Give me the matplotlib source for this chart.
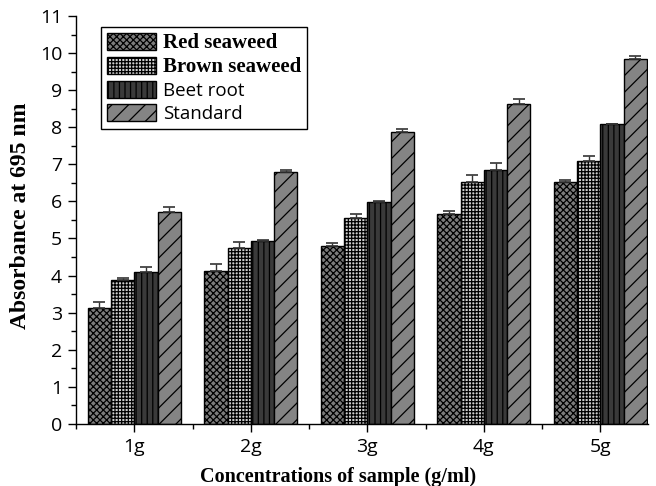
import matplotlib
matplotlib.use('Agg')
import matplotlib.pyplot as plt
from matplotlib.ticker import MultipleLocator
import numpy as np

concentrations = ['1g', '2g', '3g', '4g', '5g']
red_seaweed = [3.13, 4.13, 4.79, 5.66, 6.51]
red_err = [0.15, 0.17, 0.10, 0.09, 0.08]
brown_seaweed = [3.88, 4.75, 5.56, 6.52, 7.10]
brown_err = [0.05, 0.15, 0.11, 0.18, 0.13]
beet_root = [4.10, 4.93, 5.98, 6.86, 8.09]
beet_err = [0.14, 0.02, 0.02, 0.17, 0.01]
standard = [5.72, 6.78, 7.86, 8.64, 9.84]
standard_err = [0.14, 0.06, 0.09, 0.11, 0.07]

plt.rcParams['hatch.linewidth'] = 0.9

fig = plt.figure(figsize=(6.56, 4.86), dpi=100)
ax = fig.add_axes([0.116, 0.128, 0.872, 0.839])

x = np.arange(1, 6)
w = 0.2
series = [
    (red_seaweed, red_err, 'Red seaweed', '#7c7c7c', 'xxxxx'),
    (brown_seaweed, brown_err, 'Brown seaweed', '#cfcfcf', '+++++'),
    (beet_root, beet_err, 'Beet root', '#3a3a3a', '|||'),
    (standard, standard_err, 'Standard', '#848484', '//'),
]
for i, (vals, errs, name, fc, hatch) in enumerate(series):
    pos = x + (i - 1.5) * w
    ax.bar(pos, vals, w, color=fc, edgecolor='black', hatch=hatch,
           linewidth=1.0, label=name, zorder=2)
    ax.errorbar(pos, vals, yerr=[np.zeros(5), errs], fmt='none',
                ecolor='#333333', elinewidth=1.0, capsize=4, capthick=1.2,
                zorder=3)

ax.set_xlim(0.5, 5.41)
ax.set_ylim(0, 11)
ax.set_xticks(x)
ax.set_xticklabels(concentrations)
ax.xaxis.set_minor_locator(MultipleLocator(0.5))
ax.yaxis.set_major_locator(MultipleLocator(1))
ax.yaxis.set_minor_locator(MultipleLocator(0.5))
ax.tick_params(which='major', direction='out', length=6, width=1.0,
               labelsize=14, pad=4)
ax.tick_params(which='minor', direction='out', length=3.5, width=1.0)
for lab in ax.get_xticklabels() + ax.get_yticklabels():
    lab.set_fontfamily('Open Sans')
ax.spines['top'].set_visible(False)
ax.spines['right'].set_visible(False)
ax.spines['left'].set_linewidth(1.0)
ax.spines['bottom'].set_linewidth(1.0)

ax.set_ylabel('Absorbance at 695 nm', fontfamily='Liberation Serif',
              fontweight='bold', fontsize=17)
ax.yaxis.set_label_coords(-0.078, 0.51)
ax.set_xlabel('Concentrations of sample (g/ml)', fontfamily='Liberation Serif',
              fontweight='bold', fontsize=14.5)
ax.xaxis.set_label_coords(0.458, -0.105)

leg = ax.legend(loc='upper left', bbox_to_anchor=(0.0437, 0.972), frameon=True,
                fancybox=False, edgecolor='black', framealpha=1,
                handlelength=2.5, handleheight=0.95, handletextpad=0.4,
                labelspacing=0.2, borderpad=0.3, borderaxespad=0,
                fontsize=14)
leg.get_frame().set_linewidth(1.0)
texts = leg.get_texts()
for t in texts[:2]:
    t.set_fontfamily('Liberation Serif')
    t.set_fontweight('bold')
    t.set_fontsize(15)
for t in texts[2:]:
    t.set_fontfamily('Open Sans')
    t.set_fontsize(13.5)

fig.savefig('out.png', dpi=100)
